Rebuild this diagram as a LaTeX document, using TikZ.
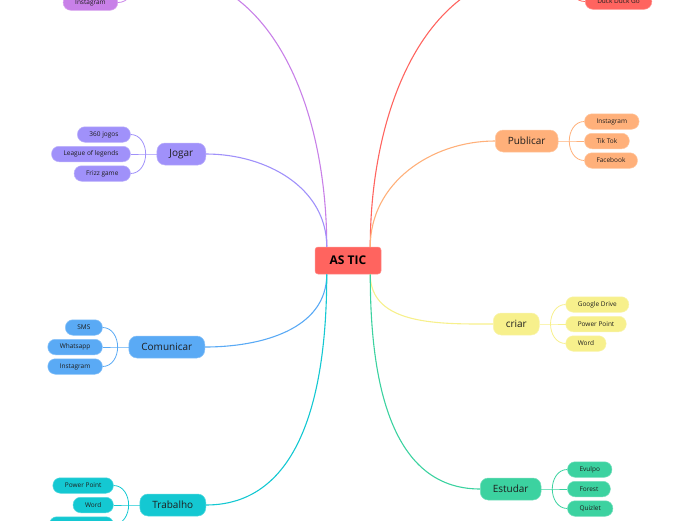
\documentclass[tikz,border=0pt]{standalone}
\usepackage{fontspec}
\setmainfont{Open Sans}
\definecolor{TicRed}{RGB}{255,100,95}
\definecolor{NetPurple}{RGB}{200,128,232}
\definecolor{JogarLilac}{RGB}{160,145,250}
\definecolor{ComBlue}{RGB}{90,170,245}
\definecolor{TrabCyan}{RGB}{20,200,210}
\definecolor{EstGreen}{RGB}{60,210,160}
\definecolor{CriarYellow}{RGB}{247,240,140}
\definecolor{PubOrange}{RGB}{255,176,122}
\definecolor{TextDark}{RGB}{30,30,30}
\usetikzlibrary{positioning}

\begin{document}
\begin{tikzpicture}[
      x=1pt, y=1pt,
      every node/.style={text=TextDark, inner ysep=0pt},
      root/.style ={fill=TicRed, draw=TicRed!70!white, line width=0.5pt, rounded corners=3pt,
                    minimum width=66pt, minimum height=27pt, text=black,
                    font=\fontsize{12}{14}\selectfont\bfseries},
      topic/.style={rounded corners=8pt, minimum height=22pt, inner xsep=12.5pt,
                    line width=0.5pt, font=\fontsize{10}{12}\selectfont},
      leaf/.style ={rounded corners=7.5pt, minimum height=15.5pt, inner xsep=12pt,
                    line width=0.5pt, font=\fontsize{6.5}{8}\selectfont},
      net/.style  ={fill=NetPurple,   draw=NetPurple!70!white},
      srch/.style ={fill=TicRed,      draw=TicRed!70!white},
      jog/.style  ={fill=JogarLilac,  draw=JogarLilac!70!white},
      com/.style  ={fill=ComBlue,     draw=ComBlue!70!white},
      trab/.style ={fill=TrabCyan,    draw=TrabCyan!70!white},
      pub/.style  ={fill=PubOrange,   draw=PubOrange!70!white},
      cri/.style  ={fill=CriarYellow, draw=CriarYellow!70!white},
      est/.style  ={fill=EstGreen,    draw=EstGreen!70!white},
      link/.style ={line width=1.1pt},
      twig/.style ={line width=0.8pt},
  ]
  \path[use as bounding box] (0,0) rectangle (696,-520);
  \clip (0,0) rectangle (696,-520);

  % ─ Central topic ─
  \node[root] (tic) at (348,-260.5) {AS TIC};
  \coordinate (tl) at ([xshift=12pt]tic.north west);
  \coordinate (tr) at ([xshift=-11pt]tic.north east);
  \coordinate (bl) at ([xshift=12pt]tic.south west);
  \coordinate (br) at ([xshift=-11pt]tic.south east);

  % ─ Topics, left side ─
  \node[topic, jog,  anchor=east] (jogar)     at (206,-154) {Jogar};
  \node[topic, com,  anchor=east] (comunicar) at (205,-347) {Comunicar};
  \node[topic, trab, anchor=east] (trabalho)  at (206,-505) {Trabalho};

  % ─ Topics, right side ─
  \node[topic, pub, anchor=west] (publicar) at (495,-141) {Publicar};
  \node[topic, cri, anchor=west] (criar)    at (493,-324) {criar};
  \node[topic, est, anchor=west] (estudar)  at (480,-489) {Estudar};

  % ─ Branches cut by the page edge ─
  \coordinate (netend)   at (150,30);
  \coordinate (srchend)  at (548,30);
  \coordinate (netfork)  at (134,17);
  \coordinate (srchfork) at (569,17);
  \node[leaf, net,  anchor=east] (inst0) at (118,-2.5) {Instagram};
  \node[leaf, srch, anchor=west] (ddg)   at (585,-1.5) {Duck Duck Go};

  % ─ Leaves: Jogar ─
  \node[leaf, jog, left=26pt of jogar]                               (lol)   {League of legends};
  \node[leaf, jog, above=3.5pt of lol.north east, anchor=south east] (j360)  {360 jogos};
  \node[leaf, jog, below=3.5pt of lol.south east, anchor=north east] (frizz) {Frizz game};

  % ─ Leaves: Comunicar ─
  \node[leaf, com, left=26pt of comunicar]                             (whats) {Whatsapp};
  \node[leaf, com, above=3.5pt of whats.north east, anchor=south east] (sms)   {SMS};
  \node[leaf, com, below=3.5pt of whats.south east, anchor=north east] (inst1) {Instagram};

  % ─ Leaves: Trabalho ─
  \node[leaf, trab, left=26pt of trabalho]                             (word0) {Word};
  \node[leaf, trab, above=3.5pt of word0.north east, anchor=south east] (pp0) {Power Point};
  \node[leaf, trab, below=3.5pt of word0.south east, anchor=north east, minimum width=64pt] (trab3) {};

  % ─ Leaves: Publicar ─
  \node[leaf, pub, right=26pt of publicar]                              (tiktok) {Tik Tok};
  \node[leaf, pub, above=3.5pt of tiktok.north west, anchor=south west] (inst2)  {Instagram};
  \node[leaf, pub, below=3.5pt of tiktok.south west, anchor=north west] (fb)     {Facebook};

  % ─ Leaves: criar ─
  \node[leaf, cri, right=26pt of criar]                              (pp1)    {Power Point};
  \node[leaf, cri, above=3.5pt of pp1.north west, anchor=south west] (gdrive) {Google Drive};
  \node[leaf, cri, below=3.5pt of pp1.south west, anchor=north west] (word1)  {Word};

  % ─ Leaves: Estudar ─
  \node[leaf, est, right=26pt of estudar]                               (forest)  {Forest};
  \node[leaf, est, above=3.5pt of forest.north west, anchor=south west] (evulpo)  {Evulpo};
  \node[leaf, est, below=3.5pt of forest.south west, anchor=north west] (quizlet) {Quizlet};

  % ─ Centre → topics ─
  \draw[link, NetPurple]   (tl) to[out=90,in=0]    (netend);
  \draw[link, JogarLilac]  (tl) to[out=90,in=0]    (jogar.east);
  \draw[link, ComBlue]     (bl) to[out=-90,in=0]   (comunicar.east);
  \draw[link, TrabCyan]    (bl) to[out=-90,in=0]   (trabalho.east);
  \draw[link, TicRed]      (tr) to[out=90,in=180]  (srchend);
  \draw[link, PubOrange]   (tr) to[out=90,in=180]  (publicar.west);
  \draw[link, CriarYellow] (br) to[out=-90,in=180] (criar.west);
  \draw[link, EstGreen]    (br) to[out=-90,in=180] (estudar.west);

  % ─ Forks → leaves ─
  \draw[twig, NetPurple] (netfork)  to[out=-90,in=0]   (inst0.east);
  \draw[twig, TicRed]    (srchfork) to[out=-90,in=180] (ddg.west);

  \coordinate (jfork) at ([xshift=-11pt]jogar.west);
  \draw[twig, JogarLilac] (jogar.west) -- (jfork) -- (lol.east);
  \draw[twig, JogarLilac] (jfork) to[out=90,in=0]  (j360.east);
  \draw[twig, JogarLilac] (jfork) to[out=-90,in=0] (frizz.east);

  \coordinate (cfork) at ([xshift=-11pt]comunicar.west);
  \draw[twig, ComBlue] (comunicar.west) -- (cfork) -- (whats.east);
  \draw[twig, ComBlue] (cfork) to[out=90,in=0]  (sms.east);
  \draw[twig, ComBlue] (cfork) to[out=-90,in=0] (inst1.east);

  \coordinate (tfork) at ([xshift=-11pt]trabalho.west);
  \draw[twig, TrabCyan] (trabalho.west) -- (tfork) -- (word0.east);
  \draw[twig, TrabCyan] (tfork) to[out=90,in=0]  (pp0.east);
  \draw[twig, TrabCyan] (tfork) to[out=-90,in=0] (trab3.east);

  \coordinate (pfork) at ([xshift=11pt]publicar.east);
  \draw[twig, PubOrange] (publicar.east) -- (pfork) -- (tiktok.west);
  \draw[twig, PubOrange] (pfork) to[out=90,in=180]  (inst2.west);
  \draw[twig, PubOrange] (pfork) to[out=-90,in=180] (fb.west);

  \coordinate (crfork) at ([xshift=11pt]criar.east);
  \draw[twig, CriarYellow] (criar.east) -- (crfork) -- (pp1.west);
  \draw[twig, CriarYellow] (crfork) to[out=90,in=180]  (gdrive.west);
  \draw[twig, CriarYellow] (crfork) to[out=-90,in=180] (word1.west);

  \coordinate (efork) at ([xshift=11pt]estudar.east);
  \draw[twig, EstGreen] (estudar.east) -- (efork) -- (forest.west);
  \draw[twig, EstGreen] (efork) to[out=90,in=180]  (evulpo.west);
  \draw[twig, EstGreen] (efork) to[out=-90,in=180] (quizlet.west);
\end{tikzpicture}
\end{document}
